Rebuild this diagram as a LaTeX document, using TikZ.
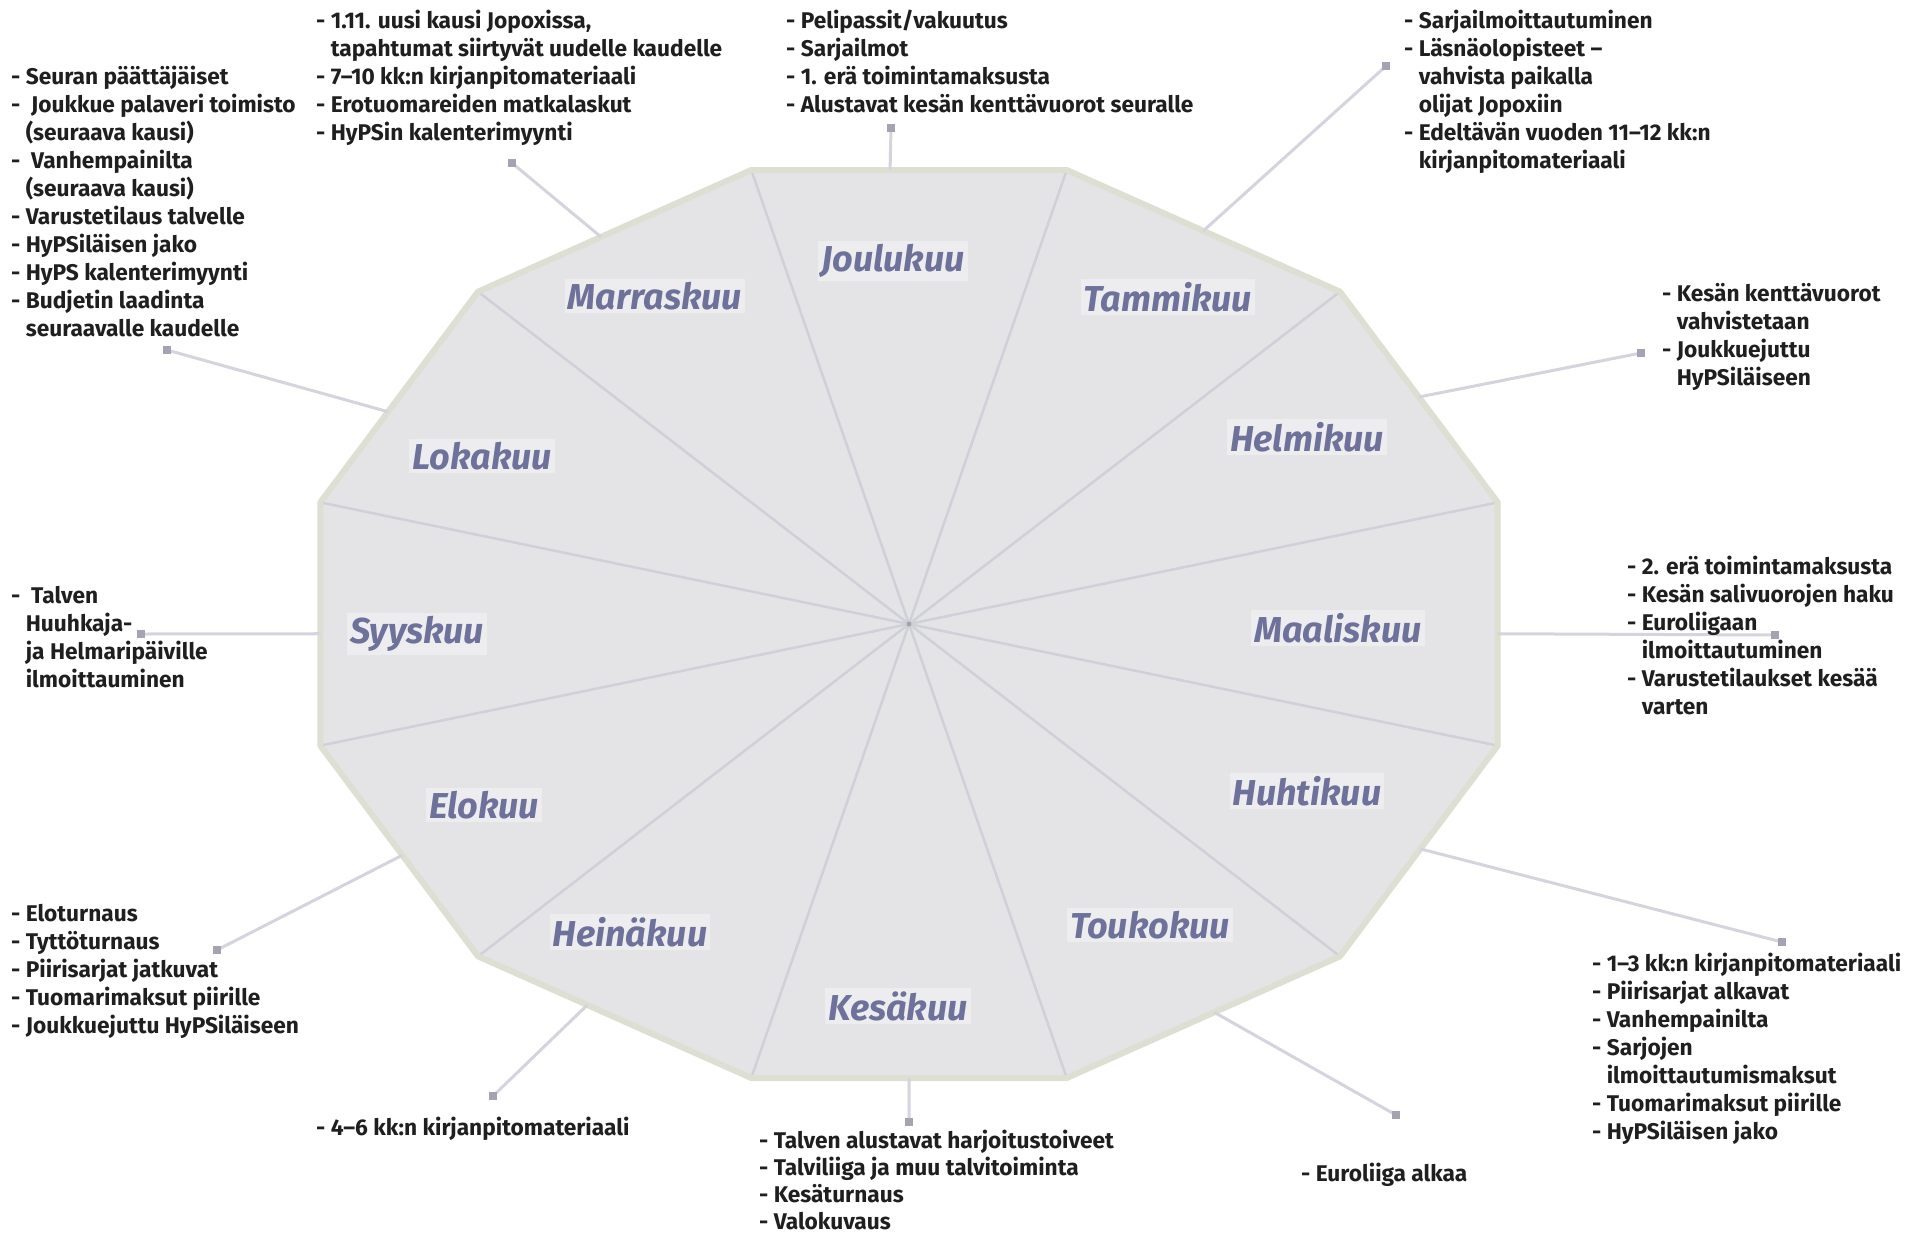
\documentclass[tikz,border=0pt]{standalone}
\usepackage{fontspec}
\setmainfont{Fira Sans}
\newfontfamily\txtfont{Fira Sans}
\newfontfamily\monthfont{Fira Sans}
\usetikzlibrary{calc}
\definecolor{polyfill}{HTML}{E4E4E7}
\definecolor{polyedge}{HTML}{DCDFD2}
\definecolor{spoke}{HTML}{D0D0D9}
\definecolor{leader}{HTML}{D4D4DE}
\definecolor{markcol}{HTML}{A3A3B2}
\definecolor{monthcol}{HTML}{6E729A}
\definecolor{txtcol}{HTML}{1F1F1F}
\newcommand{\indt}{\hphantom{- }}
\begin{document}
\begin{tikzpicture}[x=1pt,y=-1pt,
  note/.style={anchor=north west, inner sep=0pt, align=left, text=txtcol,
    font=\txtfont\bfseries\fontsize{22.7}{28}\selectfont},
  tightnote/.style={note, font=\txtfont\bfseries\fontsize{22.7}{27}\selectfont},
  month/.style={text=monthcol, font=\monthfont\bfseries\itshape\fontsize{36}{40}\selectfont,
    fill=white, fill opacity=0.35, text opacity=1, inner sep=3pt},
  lead/.style={draw=leader, line width=3pt},
  dotmark/.style={fill=markcol, draw=none, rectangle, minimum size=7pt, inner sep=0pt},
  spk/.style={draw=spoke, line width=2.5pt}
]
\useasboundingbox (0,0) rectangle (1923,1235);
\fill[white] (0,0) rectangle (1923,1235);

\coordinate (C) at (909,624);
\foreach \a in {15,45,75,105,135,165,195,225,255,285,315,345}
  \coordinate (v\a) at ({909+609.5*cos(\a)},{624-470*sin(\a)});

% polygon
\fill[polyfill] (v15) -- (v45) -- (v75) -- (v105) -- (v135) -- (v165) -- (v195)
  -- (v225) -- (v255) -- (v285) -- (v315) -- (v345) -- cycle;
\foreach \a in {15,45,75,105,135,165,195,225,255,285,315,345}
  \draw[spk] (C) -- (v\a);
\draw[polyedge, line width=6pt, line join=round] (v15) -- (v45) -- (v75) -- (v105) -- (v135) -- (v165) -- (v195)
  -- (v225) -- (v255) -- (v285) -- (v315) -- (v345) -- cycle;
\fill[markcol] (C) circle (2.5pt);

% month labels
\node[month] (dec) at (893,261) {Joulukuu};
\node[month] (jan) at (1168,297) {Tammikuu};
\node[month] (feb) at (1307,437) {Helmikuu};
\node[month] (mar) at (1338,628) {Maaliskuu};
\node[month] (apr) at (1307,791) {Huhtikuu};
\node[month] (may) at (1150,925) {Toukokuu};
\node[month] (jun) at (898,1006) {Kesäkuu};
\node[month] (jul) at (630,932) {Heinäkuu};
\node[month] (aug) at (484,805) {Elokuu};
\node[month] (sep) at (417,634) {Syyskuu};
\node[month] (oct) at (482,456) {Lokakuu};
\node[month] (nov) at (655,296) {Marraskuu};

% edge points
\coordinate (e1) at ($(v165)!0.43!(v135)$);
\coordinate (e2) at ($(v135)!0.45!(v105)$);
\coordinate (e3) at ($(v105)!0.44!(v75)$);
\coordinate (e4) at ($(v75)!0.5!(v45)$);
\coordinate (e5) at ($(v45)!0.5!(v15)$);
\coordinate (e6) at ($(v15)!0.54!(v345)$);
\coordinate (e7) at ($(v345)!0.49!(v315)$);
\coordinate (e8) at ($(v315)!0.46!(v285)$);
\coordinate (e9) at ($(v285)!0.5!(v255)$);
\coordinate (e10) at ($(v255)!0.6!(v225)$);
\coordinate (e11) at ($(v225)!0.48!(v195)$);
\coordinate (e12) at ($(v195)!0.46!(v165)$);

% markers
\node[dotmark] (m1) at (167,350) {};
\node[dotmark] (m2) at (512,163) {};
\node[dotmark] (m3) at (891,128) {};
\node[dotmark] (m4) at (1386,66) {};
\node[dotmark] (m5) at (1641,353) {};
\node[dotmark] (m6) at (1775,635) {};
\node[dotmark] (m7) at (1782,942) {};
\node[dotmark] (m8) at (1396,1115) {};
\node[dotmark] (m9) at (909,1122) {};
\node[dotmark] (m10) at (493,1096) {};
\node[dotmark] (m11) at (217,950) {};
\node[dotmark] (m12) at (141,634) {};

\foreach \i in {1,...,12}
  \draw[lead] (e\i) -- (m\i.center);
\foreach \i in {1,...,12}
  \fill[markcol] (m\i.south west) rectangle (m\i.north east);

% text blocks
\node[note] (t1) at (11,66) {- Seuran päättäjäiset\\
-\ \ Joukkue palaveri toimisto\\
\indt(seuraava kausi)\\
-\ \ Vanhempainilta\\
\indt(seuraava kausi)\\
- Varustetilaus talvelle\\
- HyPSiläisen jako\\
- HyPS kalenterimyynti\\
- Budjetin laadinta\\
\indt seuraavalle kaudelle};

\node[note] (t2) at (316,10) {- 1.11. uusi kausi Jopoxissa,\\
\indt tapahtumat siirtyvät uudelle kaudelle\\
- 7–10 kk:n kirjanpitomateriaali\\
- Erotuomareiden matkalaskut\\
- HyPSin kalenterimyynti};

\node[note] (t3) at (786,10) {- Pelipassit/vakuutus\\
- Sarjailmot\\
- 1. erä toimintamaksusta\\
- Alustavat kesän kenttävuorot seuralle};

\node[note] (t4) at (1404,10) {- Sarjailmoittautuminen\\
- Läsnäolopisteet –\\
\indt vahvista paikalla\\
\indt olijat Jopoxiin\\
- Edeltävän vuoden 11–12 kk:n\\
\indt kirjanpitomateriaali};

\node[note] (t5) at (1662,283) {- Kesän kenttävuorot\\
\indt vahvistetaan\\
- Joukkuejuttu\\
\indt HyPSiläiseen};

\node[note] (t6) at (1627,556) {- 2. erä toimintamaksusta\\
- Kesän salivuorojen haku\\
- Euroliigaan\\
\indt ilmoittautuminen\\
- Varustetilaukset kesää\\
\indt varten};

\node[note] (t7) at (1592,953) {- 1–3 kk:n kirjanpitomateriaali\\
- Piirisarjat alkavat\\
- Vanhempainilta\\
- Sarjojen\\
\indt ilmoittautumismaksut\\
- Tuomarimaksut piirille\\
- HyPSiläisen jako};

\node[note] (t8) at (1301,1163) {- Euroliiga alkaa};

\node[tightnote] (t9) at (759,1130) {- Talven alustavat harjoitustoiveet\\
- Talviliiga ja muu talvitoiminta\\
- Kesäturnaus\\
- Valokuvaus};

\node[note] (t10) at (316,1117) {- 4–6 kk:n kirjanpitomateriaali};

\node[note] (t11) at (11,904) {- Eloturnaus\\
- Tyttöturnaus\\
- Piirisarjat jatkuvat\\
- Tuomarimaksut piirille\\
- Joukkuejuttu HyPSiläiseen};

\node[note] (t12) at (11,586) {-\ \ Talven\\
\indt Huuhkaja-\\
\indt ja Helmaripäiville\\
\indt ilmoittauminen};
\end{tikzpicture}
\end{document}
